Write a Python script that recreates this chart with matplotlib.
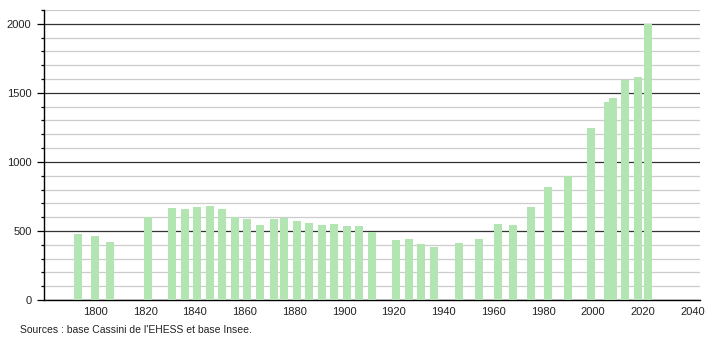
import matplotlib
matplotlib.use("Agg")
import matplotlib.pyplot as plt
from matplotlib.ticker import MultipleLocator

plt.rcParams["font.family"] = ["Liberation Sans", "DejaVu Sans"]

# Census years and population
years = [1793, 1800, 1806, 1821, 1831, 1836, 1841, 1846, 1851, 1856,
         1861, 1866, 1872, 1876, 1881, 1886, 1891, 1896, 1901, 1906,
         1911, 1921, 1926, 1931, 1936, 1946, 1954, 1962, 1968, 1975,
         1982, 1990, 1999, 2006, 2008, 2013, 2018, 2022]
population = [478, 466, 420, 600, 667, 659, 674, 681, 659, 600,
              587, 543, 590, 592, 572, 558, 543, 551, 536, 536,
              495, 437, 442, 406, 384, 414, 442, 551, 543, 674,
              816, 896, 1249, 1437, 1461, 1594, 1614, 2000]

source_text = "Sources : base Cassini de l'EHESS et base Insee."

BAR = "#b3e5b3"

fig = plt.figure(figsize=(7.1, 3.4), dpi=100)
ax = fig.add_axes([0.062, 0.1176, 0.924, 0.853])

ax.bar(years, population, width=3.2, color=BAR, zorder=3)

ax.set_xlim(1779.4, 2043)
ax.set_ylim(0, 2100)

ax.yaxis.set_major_locator(MultipleLocator(500))
ax.yaxis.set_minor_locator(MultipleLocator(100))
ax.set_xticks(range(1800, 2041, 20))

ax.grid(axis="y", which="minor", color="#cccccc", lw=0.9, zorder=1)
ax.grid(axis="y", which="major", color="#333333", lw=0.9, zorder=2)

for s in ["top", "right"]:
    ax.spines[s].set_visible(False)
ax.spines["left"].set_color("#000000")
ax.spines["bottom"].set_color("#000000")
ax.spines["left"].set_linewidth(1.0)
ax.spines["bottom"].set_linewidth(1.0)

ax.tick_params(axis="y", which="major", length=5, width=0.9, labelsize=8, pad=4,
               labelcolor="#222222")
ax.tick_params(axis="y", which="minor", length=2.5, width=0.9)
ax.tick_params(axis="x", which="both", length=0, labelsize=8, pad=5,
               labelcolor="#222222")

fig.text(0.028, 0.015, source_text, fontsize=7.5, ha="left", va="bottom",
         color="#222222")

fig.savefig("out.png", dpi=100, facecolor="white")
